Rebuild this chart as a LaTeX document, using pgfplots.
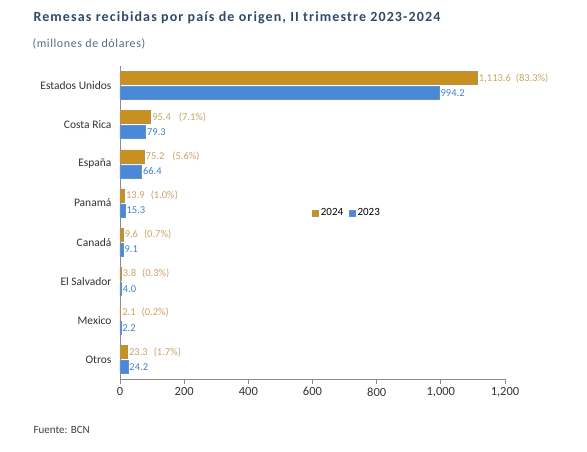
\documentclass[border=0pt]{standalone}
\usepackage{pgfplots}
\usepackage{pgfplotstable}
\pgfplotsset{compat=1.18}
\usepackage{fontspec}
\setmainfont{Carlito}
\definecolor{goldbar}{HTML}{C8901E}
\definecolor{goldbot}{HTML}{8E620E}
\definecolor{bluebar}{HTML}{4A88D8}
\definecolor{bluebot}{HTML}{2A5EAE}
\definecolor{goldtxt}{HTML}{C9A368}
\definecolor{bluetxt}{HTML}{3F82CC}
\definecolor{titlec}{HTML}{2F4A68}
\definecolor{subc}{HTML}{5A6A80}
\pgfplotstableread{
x y label
1113.6 7 {1,113.6\hspace{5pt}(83.3\%)}
95.4 6 {95.4\hspace{8pt}(7.1\%)}
75.2 5 {75.2\hspace{8pt}(5.6\%)}
13.9 4 {13.9\hspace{6pt}(1.0\%)}
9.6 3 {9.6\hspace{6pt}(0.7\%)}
3.8 2 {3.8\hspace{6pt}(0.3\%)}
2.1 1 {2.1\hspace{6pt}(0.2\%)}
23.3 0 {23.3\hspace{6pt}(1.7\%)}
}\dataA
\pgfplotstableread{
x y label
994.2 7 994.2
79.3 6 79.3
66.4 5 66.4
15.3 4 15.3
9.1 3 9.1
4.0 2 4.0
2.2 1 2.2
24.2 0 24.2
}\dataB
\begin{document}
\begin{tikzpicture}
\useasboundingbox (0pt,0pt) rectangle (587pt,452pt);
\node[anchor=west,font=\fontsize{14}{16}\selectfont\bfseries\addfontfeatures{LetterSpace=8},text=titlec] at (30pt,434pt) {Remesas recibidas por país de origen, II trimestre 2023-2024};
\node[anchor=west,font=\fontsize{12}{14}\selectfont\addfontfeatures{LetterSpace=5},text=subc] at (29pt,408pt) {(millones de dólares)};
\node[anchor=west,font=\fontsize{11}{12}\selectfont,text=black!75] at (30pt,22pt) {Fuente: BCN};
\begin{axis}[
  at={(120pt,73pt)}, anchor=south west,
  scale only axis, width=385pt, height=313pt,
  xmin=0, xmax=1200, ymin=-0.5, ymax=7.5,
  xtick={0,200,...,1200},
  xticklabel style={/pgf/number format/.cd,1000 sep={,},assume math mode=true},
  ticklabel style={font=\fontsize{12.5}{14}\selectfont, text=black!80},
  ytick={0,...,7},
  yticklabels={Otros,Mexico,El Salvador,Canadá,Panamá,España,Costa Rica,Estados Unidos},
  yticklabel style={font=\fontsize{11.5}{13}\selectfont},
  axis x line*=bottom, axis y line*=left,
  axis line style={black!45, line width=0.8pt},
  x axis line style={-},
  y axis line style={-},
  xtick style={black!45, line width=0.8pt},
  xtick align=outside,
  major tick length=5pt,
  ytick style={draw=none},
  xbar, bar width=13pt,
  point meta=explicit symbolic,
  nodes near coords,
  every node near coord/.append style={font=\fontsize{10.5}{12}\selectfont, anchor=west, inner sep=1.5pt},
  legend style={at={(axis cs:590,3.74)}, anchor=west, draw=none, fill=none, font=\fontsize{11}{13}\selectfont, legend columns=2, /tikz/every even column/.append style={column sep=4pt}},
  legend image code/.code={\fill[#1] (0pt,-3pt) rectangle (6pt,3pt);},
  clip=false,
]
\addplot[bar shift=7.5pt, draw=goldbot!70, fill=goldbar,
  every node near coord/.append style={text=goldtxt}] table[x=x,y=y,meta=label] {\dataA};
\addlegendentry{2024}
\addplot[bar shift=-7.5pt, draw=bluebot!70, fill=bluebar,
  every node near coord/.append style={text=bluetxt}] table[x=x,y=y,meta=label] {\dataB};
\addlegendentry{2023}
\end{axis}
\end{tikzpicture}
\end{document}
